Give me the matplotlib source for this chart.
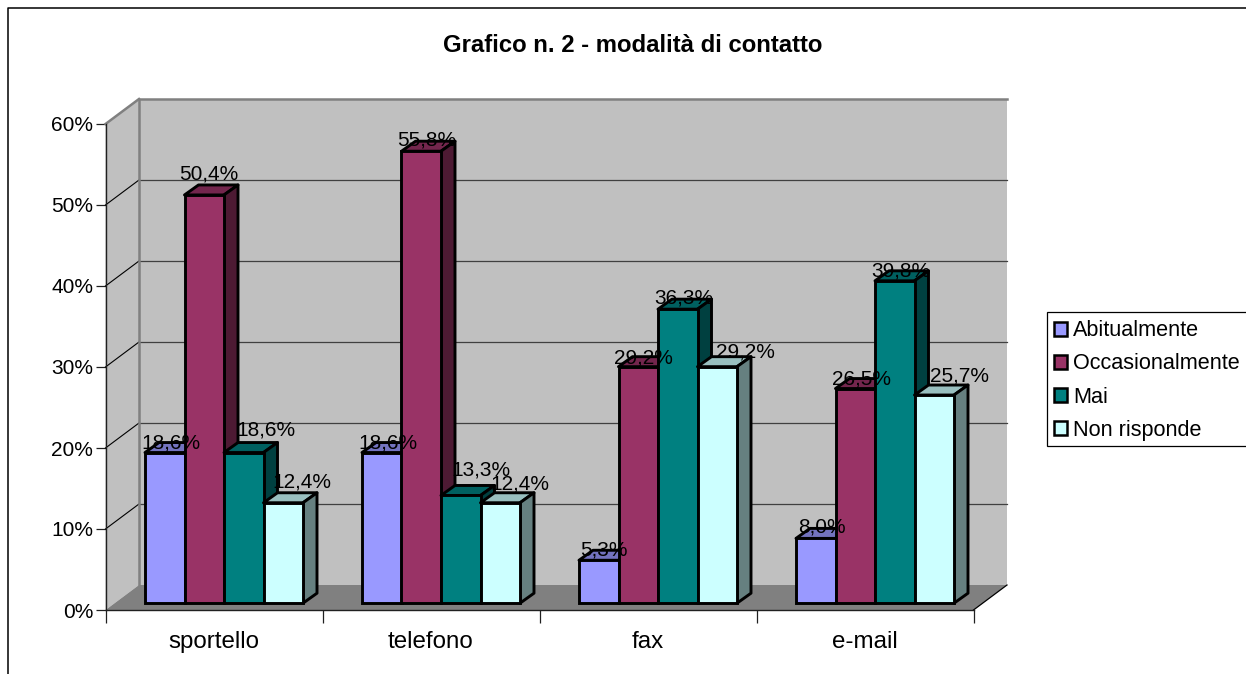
import matplotlib
matplotlib.use("Agg")
import matplotlib.pyplot as plt
from matplotlib.patches import Polygon, Patch, Rectangle
from matplotlib.lines import Line2D

plt.rcParams['font.family'] = ['Liberation Sans', 'DejaVu Sans']

# data
categories = ['sportello', 'telefono', 'fax', 'e-mail']
abitualmente = [18.6, 18.6, 5.3, 8.0]
occasionalmente = [50.4, 55.8, 29.2, 26.5]
mai = [18.6, 13.3, 36.3, 39.8]
non_risponde = [12.4, 12.4, 29.2, 25.7]
series_names = ['Abitualmente', 'Occasionalmente', 'Mai', 'Non risponde']
y_ticks = [0, 10, 20, 30, 40, 50, 60]

series = [abitualmente, occasionalmente, mai, non_risponde]
face_colors = ['#9999FF', '#993366', '#008080', '#CCFFFF']
top_colors = ['#7373BF', '#73264D', '#006060', '#99BFBF']
side_colors = ['#4D4D80', '#4D1A33', '#004040', '#668080']

# label nudges in pixels from the top of each bar, series by category
label_nudge = [
    [(6, 10), (6, 10), (5, 10), (6, 11)],
    [(5, 21), (5, 11), (5, 9), (6, 10)],
    [(22, 23), (20, 25), (6, 11), (6, 10)],
    [(19, 21), (20, 19), (28, 15), (25, 19)],
]

W, H = 1246, 674
fig = plt.figure(figsize=(W / 100, H / 100), dpi=100)
ax = fig.add_axes([105.5 / W, (H - 610) / H, 868 / W, 486 / H])
ax.set_xlim(0, 4)
ax.set_ylim(0, 60)
ax.patch.set_visible(False)

# pixel sizes converted to data units
px_x = 4 / 868
px_y = 60 / 486
depth_x = 33.5 * px_x
depth_y = 25 * px_y
bar_width = 39.5 * px_x
front_y = 6.8 * px_y
bar_dx = 14 * px_x
bar_dy = 10 * px_y
bar_lw = 2.1
start_x = 39.5 * px_x

# walls and floor
ax.add_patch(Polygon([(depth_x, depth_y), (4 + depth_x, depth_y), (4 + depth_x, 60 + depth_y), (depth_x, 60 + depth_y)],
                     fc='#C0C0C0', ec='none', clip_on=False, zorder=1))
ax.add_patch(Polygon([(0, 0), (depth_x, depth_y), (depth_x, 60 + depth_y), (0, 60)],
                     fc='#C0C0C0', ec='none', clip_on=False, zorder=1))
ax.add_patch(Polygon([(0, 0), (4, 0), (4 + depth_x, depth_y), (depth_x, depth_y)],
                     fc='#808080', ec='none', clip_on=False, zorder=1))

# gridlines on back wall and left wall
for t in y_ticks[1:-1]:
    ax.plot([depth_x, 4 + depth_x], [t + depth_y, t + depth_y], color='#404040', lw=0.9, clip_on=False, zorder=2)
    ax.plot([0, depth_x], [t, t + depth_y], color='black', lw=0.8, clip_on=False, zorder=2)
ax.plot([4 + depth_x, depth_x, depth_x], [60 + depth_y, 60 + depth_y, depth_y], color='#808080', lw=1.8, clip_on=False, zorder=2)
ax.plot([0, depth_x], [60, 60 + depth_y], color='#808080', lw=1.8, clip_on=False, zorder=2)
ax.plot([4, 4 + depth_x], [0, depth_y], color='black', lw=0.9, clip_on=False, zorder=2)

# bars
z = 3
for c in range(len(categories)):
    for s in range(len(series)):
        v = series[s][c]
        x0 = c + start_x + s * bar_width
        x1 = x0 + bar_width
        base = front_y
        top = base + v
        ax.bar(x0, v, width=bar_width, bottom=base, align='edge', color=face_colors[s],
               edgecolor='black', linewidth=bar_lw, clip_on=False, zorder=z + 0.2)
        ax.add_patch(Polygon([(x0, top), (x1, top), (x1 + bar_dx, top + bar_dy), (x0 + bar_dx, top + bar_dy)],
                             fc=top_colors[s], ec='black', lw=bar_lw, joinstyle='round', clip_on=False, zorder=z))
        ax.add_patch(Polygon([(x1, base), (x1 + bar_dx, base + bar_dy), (x1 + bar_dx, top + bar_dy), (x1, top)],
                             fc=side_colors[s], ec='black', lw=bar_lw, joinstyle='round', clip_on=False, zorder=z))
        z += 1

# data labels above everything
for s in range(len(series)):
    for c in range(len(categories)):
        v = series[s][c]
        x0 = c + start_x + s * bar_width
        nx, ny = label_nudge[s][c]
        ax.annotate(f'{v:.1f}%'.replace('.', ','), xy=(x0 + bar_width / 2, front_y + v),
                    xytext=(nx, ny), textcoords='offset pixels', ha='center', va='center',
                    fontsize=15, color='black', zorder=100, annotation_clip=False)

# axes
for name in ['top', 'right']:
    ax.spines[name].set_visible(False)
for name in ['left', 'bottom']:
    ax.spines[name].set_linewidth(1.0)
    ax.spines[name].set_color('#202020')
    ax.spines[name].set_zorder(2.5)
ax.set_yticks(y_ticks)
ax.set_yticklabels([f'{t}%' for t in y_ticks], fontsize=15)
ax.set_xticks(range(len(categories) + 1))
ax.set_xticklabels([])
ax.set_xticks([i + 0.5 for i in range(len(categories))], minor=True)
ax.set_xticklabels(categories, minor=True, fontsize=17.4)
ax.tick_params(axis='x', which='major', length=9, width=0.9, color='#202020')
ax.tick_params(axis='x', which='minor', length=0, pad=15)
ax.tick_params(axis='y', length=7, width=0.9, color='#202020', pad=1.8)

fig.text(633 / W, 1 - 46 / H, 'Grafico n. 2 - modalità di contatto', ha='center', va='center',
         fontsize=17.2, fontweight='bold')

# legend box runs off the right edge like the original
fig.add_artist(Rectangle((1047 / W, (H - 446) / H), 300 / W, 134 / H, transform=fig.transFigure,
                         fc='white', ec='black', lw=0.9))
handles = [Patch(fc=face_colors[i], ec='black', lw=1.8) for i in range(4)]
leg = fig.legend(handles, series_names, loc='center left',
                 bbox_to_anchor=(1054 / W, (H - 380.5) / H), frameon=False,
                 borderaxespad=0, borderpad=0, fontsize=15.6,
                 handlelength=0.62, handleheight=0.62, handletextpad=0.25, labelspacing=0.56)
leg.set_zorder(10)

# chart frame
fig.add_artist(Line2D([8.3 / W, 8.3 / W, 1], [0, 1 - 8.3 / H, 1 - 8.3 / H], color='black', lw=1.1))

fig.savefig('out.png', dpi=100)
